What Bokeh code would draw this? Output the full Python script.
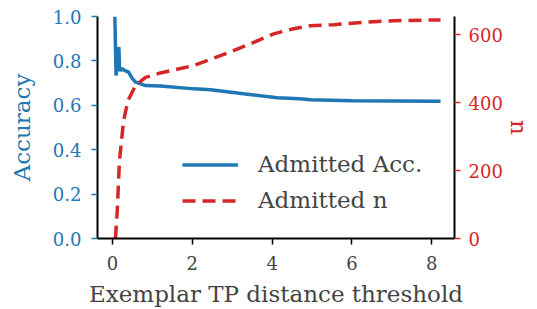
from bokeh.plotting import figure
from bokeh.models import LinearAxis, Range1d, FixedTicker, PrintfTickFormatter, Legend, LegendItem
from bokeh.embed import file_html
from bokeh.resources import INLINE

# Data
x_acc = [0.06, 0.09, 0.12, 0.16, 0.18, 0.20, 0.25, 0.30, 0.40, 0.50, 0.58, 0.83, 1.2,
         2.04, 2.46, 3.28, 4.13, 4.69, 4.96, 6.0, 7.0, 8.22]
acc = [1.0, 0.734, 0.78, 0.862, 0.76, 0.757, 0.765, 0.757, 0.75, 0.72, 0.704, 0.689, 0.687,
       0.674, 0.670, 0.652, 0.634, 0.629, 0.625, 0.620, 0.619, 0.618]

x_n = [0.075, 0.12, 0.175, 0.28, 0.39, 0.58, 0.83, 1.2, 2.04, 2.87, 3.46, 4.04, 4.54,
       4.96, 5.54, 6.38, 7.22, 8.05, 8.22]
n = [0, 82, 229, 347, 406, 450, 474, 487, 509, 545, 573, 602, 617,
     626, 629, 637, 641, 643, 643]

x_ticks = [0, 2, 4, 6, 8]
acc_ticks = [0.0, 0.2, 0.4, 0.6, 0.8, 1.0]
n_ticks = [0, 200, 400, 600]

BLUE = "#1f77b4"
RED = "#d62728"
FONT = "'DejaVu Serif', serif"
TICK_FS = "18px"
LABEL_FS = "23px"

p = figure(width=537, height=309, output_backend="svg", toolbar_location=None,
           x_range=Range1d(-0.375, 8.57), y_range=Range1d(0, 1.0),
           min_border_left=97, min_border_right=83, min_border_top=16, min_border_bottom=71)
p.extra_y_ranges = {"n": Range1d(0, 653)}
p.outline_line_color = None
p.xgrid.visible = False
p.ygrid.visible = False
p.background_fill_color = "white"

r_acc = p.line(x_acc, acc, line_color=BLUE, line_width=3.5)
r_n = p.line(x_n, n, line_color=RED, line_width=3.5, line_dash="13 7", y_range_name="n")

xa = p.xaxis[0]
xa.ticker = FixedTicker(ticks=x_ticks)
xa.axis_label = "Exemplar TP distance threshold"
xa.minor_tick_line_color = None
xa.major_tick_out = 6
xa.major_tick_in = 0
xa.major_tick_line_width = 1.5
xa.axis_line_width = 2
xa.major_label_text_font = FONT
xa.major_label_text_font_size = TICK_FS
xa.major_label_standoff = 11
xa.axis_label_text_font = FONT
xa.axis_label_text_font_size = LABEL_FS
xa.axis_label_text_font_style = "normal"
xa.axis_label_standoff = 8

ya = p.yaxis[0]
ya.ticker = FixedTicker(ticks=acc_ticks)
ya.formatter = PrintfTickFormatter(format="%.1f")
ya.axis_label = "Accuracy"
ya.minor_tick_line_color = None
ya.major_tick_out = 6
ya.major_tick_in = 0
ya.major_tick_line_color = BLUE
ya.major_tick_line_width = 1.5
ya.axis_line_width = 2
ya.major_label_text_color = BLUE
ya.major_label_text_font = FONT
ya.major_label_text_font_size = TICK_FS
ya.major_label_standoff = 10
ya.axis_label_text_color = BLUE
ya.axis_label_text_font = FONT
ya.axis_label_text_font_size = LABEL_FS
ya.axis_label_text_font_style = "normal"
ya.axis_label_standoff = 15

ra = LinearAxis(y_range_name="n", ticker=FixedTicker(ticks=n_ticks), axis_label="n")
ra.minor_tick_line_color = None
ra.major_tick_out = 6
ra.major_tick_in = 0
ra.major_tick_line_color = RED
ra.major_tick_line_width = 1.5
ra.axis_line_width = 2
ra.major_label_text_color = RED
ra.major_label_text_font = FONT
ra.major_label_text_font_size = TICK_FS
ra.major_label_standoff = 8
ra.axis_label_text_color = RED
ra.axis_label_text_font = FONT
ra.axis_label_text_font_size = LABEL_FS
ra.axis_label_text_font_style = "normal"
ra.axis_label_standoff = 0
p.add_layout(ra, "right")

legend = Legend(items=[LegendItem(label="Admitted Acc.", renderers=[r_acc]),
                       LegendItem(label="Admitted n", renderers=[r_n])],
                location=(85, 25), orientation="vertical",
                glyph_width=56, glyph_height=23, label_height=23, label_standoff=20,
                spacing=10, padding=0, margin=0,
                label_text_font=FONT, label_text_font_size=LABEL_FS,
                background_fill_alpha=0, border_line_color=None)
p.add_layout(legend, "center")

open("out.html", "w").write(file_html(p, INLINE))
